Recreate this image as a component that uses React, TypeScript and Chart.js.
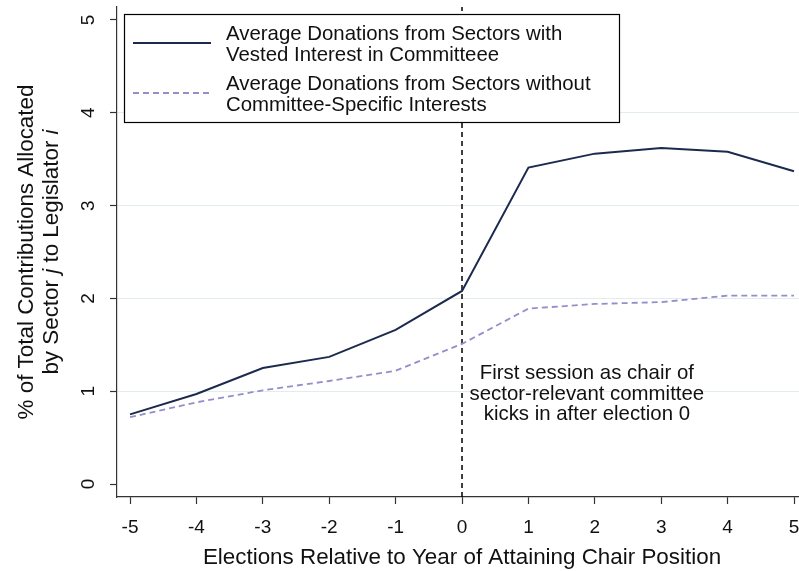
import { useEffect, useRef } from 'react';
import { Chart, registerables } from 'chart.js';

Chart.register(...registerables);

const electionOffsets = [-5, -4, -3, -2, -1, 0, 1, 2, 3, 4, 5];
const vestedShares = [0.75, 0.97, 1.25, 1.37, 1.66, 2.08, 3.41, 3.56, 3.62, 3.58, 3.37];
const otherShares = [0.72, 0.88, 1.01, 1.11, 1.22, 1.51, 1.89, 1.94, 1.96, 2.03, 2.03];
const yTickValues = [0, 1, 2, 3, 4, 5];
const xTickValues = [-5, -4, -3, -2, -1, 0, 1, 2, 3, 4, 5];
const chairElection = 0;
const legendVested = ['Average Donations from Sectors with', 'Vested Interest in Committeee'];
const legendOther = ['Average Donations from Sectors without', 'Committee-Specific Interests'];
const annotationLines = ['First session as chair of', 'sector-relevant committee', 'kicks in after election 0'];
const xTitle = 'Elections Relative to Year of Attaining Chair Position';
const yTitleLine1 = [{ t: '% of Total Contributions Allocated', it: false }];
const yTitleLine2 = [
  { t: 'by Sector ', it: false },
  { t: 'j', it: true },
  { t: ' to Legislator ', it: false },
  { t: 'i', it: true },
];

const FONT = '"Liberation Sans", Arial, Helvetica, sans-serif';
const SOLID = '#1c2a4e';
const DASHED = '#958fc9';
const TEXT = '#111111';
const AXIS = '#333333';

function mixedWidth(ctx: CanvasRenderingContext2D, segs: { t: string; it: boolean }[], size: number) {
  let w = 0;
  for (const s of segs) {
    ctx.font = `${s.it ? 'italic ' : ''}${size}px ${FONT}`;
    w += ctx.measureText(s.t).width;
  }
  return w;
}

function drawMixed(ctx: CanvasRenderingContext2D, segs: { t: string; it: boolean }[], size: number) {
  const total = mixedWidth(ctx, segs, size);
  let x = -total / 2;
  ctx.textAlign = 'left';
  ctx.textBaseline = 'alphabetic';
  for (const s of segs) {
    ctx.font = `${s.it ? 'italic ' : ''}${size}px ${FONT}`;
    ctx.fillText(s.t, x, 0);
    x += ctx.measureText(s.t).width;
  }
}

const overlayPlugin = {
  id: 'overlay',
  beforeDatasetsDraw(chart: any) {
    const { ctx, chartArea, scales } = chart;
    const x = scales.x.getPixelForValue(chairElection);
    ctx.save();
    ctx.strokeStyle = '#000';
    ctx.lineWidth = 1.5;
    ctx.setLineDash([5, 4]);
    ctx.beginPath();
    ctx.moveTo(x, chartArea.bottom);
    ctx.lineTo(x, chartArea.top);
    ctx.stroke();
    ctx.restore();
  },
  afterDraw(chart: any) {
    const { ctx, chartArea, scales } = chart;
    const xs = scales.x;
    const ys = scales.y;
    ctx.save();
    ctx.fillStyle = TEXT;

    // x tick labels
    ctx.font = `19px ${FONT}`;
    ctx.textAlign = 'center';
    ctx.textBaseline = 'alphabetic';
    for (const v of xTickValues) {
      ctx.fillText(String(v), xs.getPixelForValue(v), chartArea.bottom + 36);
    }

    // y tick labels (rotated)
    for (const v of yTickValues) {
      ctx.save();
      ctx.translate(chartArea.left - 23, ys.getPixelForValue(v));
      ctx.rotate(-Math.PI / 2);
      ctx.font = `19px ${FONT}`;
      ctx.textAlign = 'center';
      ctx.textBaseline = 'alphabetic';
      ctx.fillText(String(v), 0, 0);
      ctx.restore();
    }

    // x title
    ctx.font = `22.4px ${FONT}`;
    ctx.textAlign = 'center';
    ctx.fillText(xTitle, (chartArea.left + chartArea.right) / 2 + 4, chartArea.bottom + 67);

    // y title
    const cy = (chartArea.top + chartArea.bottom) / 2;
    ctx.save();
    ctx.translate(33, cy);
    ctx.rotate(-Math.PI / 2);
    drawMixed(ctx, yTitleLine1, 22.4);
    ctx.restore();
    ctx.save();
    ctx.translate(58, cy);
    ctx.rotate(-Math.PI / 2);
    drawMixed(ctx, yTitleLine2, 22.4);
    ctx.restore();

    // annotation
    ctx.font = `20.4px ${FONT}`;
    ctx.textAlign = 'center';
    const ax = xs.getPixelForValue(1.88);
    const ay = ys.getPixelForValue(1.13);
    annotationLines.forEach((l, i) => ctx.fillText(l, ax, ay + i * 20.5));

    // legend
    const lx = 124, ly = 14, lw = 495, lh = 108;
    ctx.fillStyle = '#fff';
    ctx.fillRect(lx, ly, lw, lh);
    ctx.strokeStyle = '#000';
    ctx.lineWidth = 1.2;
    ctx.strokeRect(lx + 0.5, ly + 0.5, lw, lh);

    ctx.lineWidth = 2;
    ctx.strokeStyle = SOLID;
    ctx.beginPath();
    ctx.moveTo(133, 43);
    ctx.lineTo(211, 43);
    ctx.stroke();
    ctx.strokeStyle = DASHED;
    ctx.lineWidth = 1.8;
    ctx.setLineDash([6, 4]);
    ctx.beginPath();
    ctx.moveTo(133, 93);
    ctx.lineTo(211, 93);
    ctx.stroke();
    ctx.setLineDash([]);

    ctx.fillStyle = TEXT;
    ctx.font = `20.4px ${FONT}`;
    ctx.textAlign = 'left';
    ctx.fillText(legendVested[0], 226, 40);
    ctx.fillText(legendVested[1], 226, 61);
    ctx.fillText(legendOther[0], 226, 90);
    ctx.fillText(legendOther[1], 226, 111);
    ctx.restore();
  },
};

export default function App() {
  const ref = useRef<HTMLCanvasElement | null>(null);
  useEffect(() => {
    if (!ref.current) return;
    const chart = new Chart(ref.current, {
      type: 'line',
      data: {
        datasets: [
          {
            label: legendVested.join(' '),
            data: electionOffsets.map((x, i) => ({ x, y: vestedShares[i] })),
            borderColor: SOLID,
            borderWidth: 2,
            pointRadius: 0,
            fill: false,
            tension: 0,
          },
          {
            label: legendOther.join(' '),
            data: electionOffsets.map((x, i) => ({ x, y: otherShares[i] })),
            borderColor: DASHED,
            borderWidth: 1.8,
            borderDash: [6, 4],
            pointRadius: 0,
            fill: false,
            tension: 0,
          },
        ],
      },
      options: {
        responsive: false,
        animation: false,
        events: [],
        layout: { padding: { left: 0, right: 0, top: 7, bottom: 0 } },
        plugins: { legend: { display: false }, tooltip: { enabled: false }, title: { display: false } },
        scales: {
          x: {
            type: 'linear',
            min: -5.196,
            max: 5.075,
            afterFit: (s: any) => { s.height = 74; },
            afterBuildTicks: (s: any) => { s.ticks = xTickValues.map((v) => ({ value: v })); },
            ticks: { display: false },
            grid: { drawOnChartArea: false, drawTicks: true, tickLength: 7, tickColor: AXIS, tickWidth: 1.2 },
            border: { display: true, color: AXIS, width: 1.2 },
          },
          y: {
            type: 'linear',
            min: -0.14,
            max: 5.14,
            afterFit: (s: any) => { s.width = 117; },
            afterBuildTicks: (s: any) => { s.ticks = yTickValues.map((v) => ({ value: v })); },
            ticks: { display: false },
            grid: {
              color: (c: any) => (c.tick && (c.tick.value === 0 || c.tick.value === 5) ? 'rgba(0,0,0,0)' : '#e2ebee'),
              lineWidth: 1,
              drawTicks: true,
              tickLength: 7,
              tickColor: AXIS,
              tickWidth: 1.2,
            },
            border: { display: true, color: AXIS, width: 1.2 },
          },
        },
      },
      plugins: [overlayPlugin],
    });
    return () => chart.destroy();
  }, []);
  return (
    <div style={{ position: 'fixed', left: 0, top: 0, width: 799, height: 571, background: '#fff' }}>
      <canvas ref={ref} width={799} height={571} style={{ display: 'block', width: 799, height: 571 }} />
    </div>
  );
}
